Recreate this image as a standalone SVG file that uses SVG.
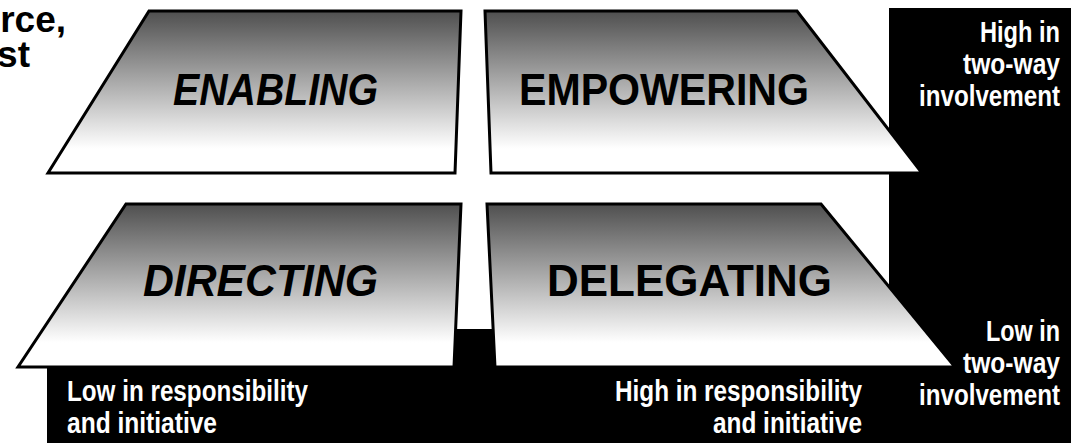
<svg xmlns="http://www.w3.org/2000/svg" width="1071" height="443" viewBox="0 0 1071 443">
  <defs>
    <linearGradient id="shade" x1="0" y1="0" x2="0" y2="1">
      <stop offset="0" stop-color="#4f4f4f"/>
      <stop offset="0.85" stop-color="#ffffff"/>
      <stop offset="1" stop-color="#ffffff"/>
    </linearGradient>
  </defs>
  <style>
    .quad { fill: url(#shade); stroke: #000; stroke-width: 3; stroke-linejoin: miter; }
    .title { font-family: "Liberation Sans", Arial, sans-serif; font-weight: bold; font-size: 44px; fill: #000; }
    .ital { font-style: italic; }
    .lbl { font-family: "Liberation Sans", Arial, sans-serif; font-weight: bold; font-size: 30px; fill: #fff; }
    .cut { font-family: "Liberation Sans", Arial, sans-serif; font-weight: bold; font-size: 37px; fill: #000; }
  </style>
  <rect x="0" y="0" width="1071" height="443" fill="#fff"/>
  <g id="background">
    <path d="M889,8 H1071 V443 H47 V329 H889 Z" fill="#000"/>
  </g>
  <g id="cut-text">
    <text class="cut" x="66" y="32" text-anchor="end">rce,</text>
    <text class="cut" x="30" y="67" text-anchor="end">st</text>
  </g>
  <g id="enabling">
    <polygon class="quad" points="149,11 461,11 455,173 48,173"/>
    <text class="title ital" x="173" y="105" textLength="205" lengthAdjust="spacingAndGlyphs">ENABLING</text>
  </g>
  <g id="empowering">
    <polygon class="quad" points="485,11 797,11 922,173 491,173"/>
    <text class="title" x="519" y="105" textLength="290" lengthAdjust="spacingAndGlyphs">EMPOWERING</text>
  </g>
  <g id="directing">
    <polygon class="quad" points="126,204 461,204 454,367 18,367"/>
    <text class="title ital" x="143" y="296" textLength="235" lengthAdjust="spacingAndGlyphs">DIRECTING</text>
  </g>
  <g id="delegating">
    <polygon class="quad" points="487,204 821,204 955,367 495,367"/>
    <text class="title" x="547" y="296" textLength="285" lengthAdjust="spacingAndGlyphs">DELEGATING</text>
  </g>
  <g id="label-high-involvement">
    <text class="lbl" x="1060" y="42" text-anchor="end" textLength="80" lengthAdjust="spacingAndGlyphs">High in</text>
    <text class="lbl" x="1060" y="74" text-anchor="end" textLength="97" lengthAdjust="spacingAndGlyphs">two-way</text>
    <text class="lbl" x="1060" y="106" text-anchor="end" textLength="141" lengthAdjust="spacingAndGlyphs">involvement</text>
  </g>
  <g id="label-low-involvement">
    <text class="lbl" x="1060" y="341" text-anchor="end" textLength="74" lengthAdjust="spacingAndGlyphs">Low in</text>
    <text class="lbl" x="1060" y="373" text-anchor="end" textLength="97" lengthAdjust="spacingAndGlyphs">two-way</text>
    <text class="lbl" x="1060" y="405" text-anchor="end" textLength="141" lengthAdjust="spacingAndGlyphs">involvement</text>
  </g>
  <g id="label-low-responsibility">
    <text class="lbl" x="67" y="401" textLength="241" lengthAdjust="spacingAndGlyphs">Low in responsibility</text>
    <text class="lbl" x="67" y="433" textLength="150" lengthAdjust="spacingAndGlyphs">and initiative</text>
  </g>
  <g id="label-high-responsibility">
    <text class="lbl" x="862" y="401" text-anchor="end" textLength="247" lengthAdjust="spacingAndGlyphs">High in responsibility</text>
    <text class="lbl" x="862" y="433" text-anchor="end" textLength="149" lengthAdjust="spacingAndGlyphs">and initiative</text>
  </g>
  <g id="connectors"/>
</svg>
